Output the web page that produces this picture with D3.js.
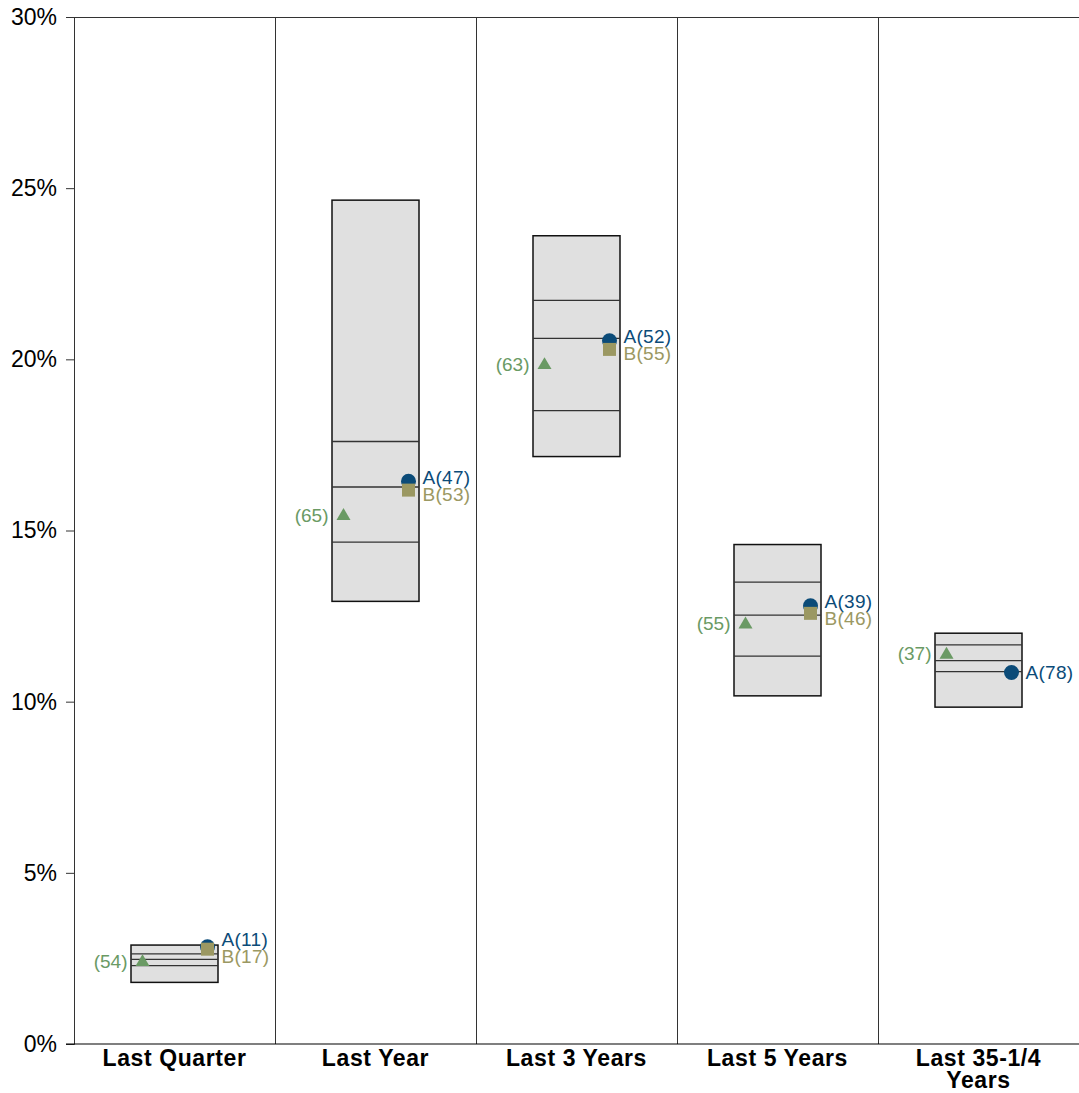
<!DOCTYPE html>
<html>
<head>
<meta charset="utf-8">
<script src="https://cdn.jsdelivr.net/npm/d3@7"></script>
<style>
  body { margin: 0; background: #fff; }
  text { font-family: "Liberation Sans", Arial, sans-serif; }
</style>
</head>
<body>
<div id="chart-area"></div>
<script>
// Categories
var periods = ["Last Quarter", "Last Year", "Last 3 Years", "Last 5 Years", "Last 35-1/4 Years"];
var periodLines = [["Last Quarter"], ["Last Year"], ["Last 3 Years"], ["Last 5 Years"], ["Last 35-1/4", "Years"]];

// Universe distribution (% return): 5th, 25th, median, 75th, 95th
var p95 = [2.89, 24.65, 23.61, 14.59, 12.00];
var p75 = [2.63, 17.60, 21.72, 13.49, 11.66];
var p50 = [2.47, 16.27, 20.61, 12.53, 11.20];
var p25 = [2.29, 14.66, 18.50, 11.33, 10.88];
var p05 = [1.80, 12.93, 17.16, 10.17, 9.84];

// Portfolio A, B, and index (triangle) returns with ranks
var valA = [2.84, 16.44, 20.54, 12.80, 10.85];
var rankA = [11, 47, 52, 39, 78];
var valB = [2.77, 16.18, 20.29, 12.58, null];
var rankB = [17, 53, 55, 46, null];
var valIdx = [2.42, 15.45, 19.86, 12.28, 11.40];
var rankIdx = [54, 65, 63, 55, 37];

var yTicks = [0, 5, 10, 15, 20, 25, 30];

var colA = "#0b4b78", colB = "#9b9862", colIdx = "#6a9a64";

var width = 1005;
var height = 1027;
var margin = {top: 17, right: 0, bottom: 49, left: 74};

var svg = d3.select("#chart-area")
    .append("svg")
    .attr("width", width + margin.left + margin.right)
    .attr("height", height + margin.top + margin.bottom);

var g = svg.append("g")
    .attr("transform", "translate(" + margin.left + ", " + margin.top + ")");

var x = d3.scaleBand()
    .domain(periods)
    .range([0, width]);

var y = d3.scaleLinear()
    .domain([0, 30])
    .range([height, 0]);

// Column dividers and top border (offset half a pixel so they stay crisp)
periods.forEach((p, i) => {
    if (i > 0) {
        g.append("line")
            .attr("x1", x(p) + 0.5).attr("x2", x(p) + 0.5)
            .attr("y1", 0).attr("y2", height)
            .attr("stroke", "#333").attr("stroke-width", 1);
    }
});
g.append("line")
    .attr("x1", 0).attr("x2", width)
    .attr("y1", 0.5).attr("y2", 0.5)
    .attr("stroke", "#333").attr("stroke-width", 1);

// Left axis
var leftAxis = d3.axisLeft(y).tickValues(yTicks).tickSize(8).tickPadding(9)
    .tickFormat((d) => d + "%");
var ga = g.append("g").attr("class", "left axis").call(leftAxis);
ga.select(".domain").attr("stroke", "#333");
ga.selectAll(".tick line").attr("stroke", "#333");
ga.selectAll("text").attr("font-size", "23px").attr("fill", "#000")
    .style("font-family", "Liberation Sans, Arial, sans-serif");

// Bottom axis line
g.append("line")
    .attr("x1", -8).attr("x2", width)
    .attr("y1", height).attr("y2", height)
    .attr("stroke", "#000").attr("stroke-width", 1.2);

// Category labels
periodLines.forEach((lines, i) => {
    var t = g.append("text")
        .attr("x", x(periods[i]) + x.bandwidth() / 2)
        .attr("y", height + 22)
        .attr("text-anchor", "middle")
        .attr("font-size", "23px")
        .attr("font-weight", "bold")
        .attr("letter-spacing", "0.6px")
        .attr("fill", "#000");
    lines.forEach((l, j) => {
        t.append("tspan")
            .attr("x", x(periods[i]) + x.bandwidth() / 2)
            .attr("dy", j === 0 ? 0 : 22)
            .text(l);
    });
});

// Boxes
var boxW = 87;
periods.forEach((p, i) => {
    var cx = x(p) + x.bandwidth() / 2;
    var bg = g.append("g");
    bg.append("rect")
        .attr("x", cx - boxW / 2)
        .attr("y", y(p95[i]))
        .attr("width", boxW)
        .attr("height", y(p05[i]) - y(p95[i]))
        .attr("fill", "#e0e0e0")
        .attr("stroke", "#111")
        .attr("stroke-width", 1.5);
    [p75[i], p50[i], p25[i]].forEach((v) => {
        bg.append("line")
            .attr("x1", cx - boxW / 2).attr("x2", cx + boxW / 2)
            .attr("y1", y(v)).attr("y2", y(v))
            .attr("stroke", "#333").attr("stroke-width", 1.3);
    });

    var mx = cx + 33;
    var tx = cx - 32;

    // Index triangle
    var s = 7;
    var ty = y(valIdx[i]);
    g.append("path")
        .attr("d", "M" + tx + "," + (ty - s) + "L" + (tx + s) + "," + (ty + s * 0.7) + "L" + (tx - s) + "," + (ty + s * 0.7) + "Z")
        .attr("fill", colIdx);
    g.append("text")
        .attr("x", tx - 15)
        .attr("y", ty)
        .attr("dy", "0.35em")
        .attr("text-anchor", "end")
        .attr("font-size", "19px")
        .attr("fill", colIdx)
        .text("(" + rankIdx[i] + ")");

    // A circle
    var ya = y(valA[i]);
    g.append("circle")
        .attr("cx", mx).attr("cy", ya).attr("r", 7.5)
        .attr("fill", colA);

    var labelA = ya;
    if (valB[i] != null) {
        var yb = y(valB[i]);
        g.append("rect")
            .attr("x", mx - 6.5).attr("y", yb - 6.5)
            .attr("width", 13).attr("height", 13)
            .attr("fill", colB);
        var mid = (ya + yb) / 2;
        labelA = Math.min(ya, mid - 8.5);
        g.append("text")
            .attr("x", mx + 14)
            .attr("y", Math.max(yb, mid + 8.5))
            .attr("dy", "0.35em")
            .attr("font-size", "19px")
            .attr("letter-spacing", "0.3px")
            .attr("fill", colB)
            .text("B(" + rankB[i] + ")");
    }
    g.append("text")
        .attr("x", mx + 14)
        .attr("y", labelA)
        .attr("dy", "0.35em")
        .attr("font-size", "19px")
        .attr("letter-spacing", "0.3px")
        .attr("fill", colA)
        .text("A(" + rankA[i] + ")");
});
</script>
</body>
</html>
